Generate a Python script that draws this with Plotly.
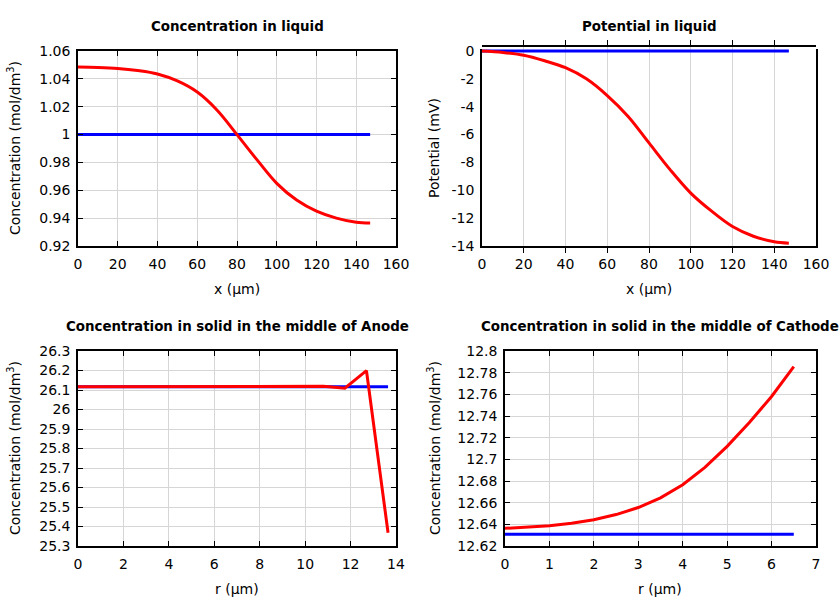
import plotly.graph_objects as go

# ---- data ----
liq_x = [0, 10, 20, 30, 40, 50, 60, 70, 80, 90, 100, 110, 120, 130, 140, 147]
liq_conc = [1.0485, 1.0482, 1.0475, 1.0460, 1.0435, 1.0385, 1.0305, 1.0175, 1.0000,
            0.9820, 0.9650, 0.9530, 0.9450, 0.9400, 0.9370, 0.9365]
liq_conc_init = [1.0] * len(liq_x)

liq_pot = [0.0, -0.1, -0.3, -0.7, -1.2, -2.0, -3.2, -4.7, -6.6, -8.5, -10.2, -11.5,
           -12.6, -13.3, -13.7, -13.8]
liq_pot_init = [0.0] * len(liq_x)
pot_tickvals = [0, -2, -4, -6, -8, -10, -12, -14]
pot_ticktext = ["0", "-2", "-4", "-6", "-8", "-10", "-12", "-14"]

an_r = [0, 10.8, 11.75, 12.7, 13.65]
an_conc = [26.117, 26.119, 26.109, 26.199, 25.368]
an_r_init = [0, 13.65]
an_conc_init = [26.117, 26.117]

ca_r = [0, 0.5, 1, 1.5, 2, 2.5, 3, 3.5, 4, 4.5, 5, 5.5, 6, 6.5]
ca_conc = [12.6363, 12.6373, 12.6387, 12.641, 12.6443, 12.649, 12.6555, 12.6645, 12.6765,
           12.6925, 12.712, 12.734, 12.758, 12.7855]
ca_r_init = [0, 6.5]
ca_conc_init = [12.6308, 12.6308]

RED = "#ff0000"
BLUE = "#0000ff"
FONT = "DejaVu Sans"
W, H = 840, 600

fig = go.Figure()

def add(x, y, color, xa, ya, shape="linear"):
    fig.add_trace(go.Scatter(x=x, y=y, mode="lines",
                             line=dict(color=color, width=3, shape=shape),
                             xaxis=xa, yaxis=ya, showlegend=False, hoverinfo="skip"))

def px_x(p):
    return p / W

def px_y(p):
    return 1 - p / H

common = dict(showline=True, linecolor="black", linewidth=1.5, mirror="allticks",
              ticks="inside", ticklen=5, tickcolor="black", tickwidth=1.2, showgrid=True,
              gridcolor="#d6d6d6", gridwidth=1, zeroline=False, automargin=False,
              tickfont=dict(family=FONT, size=14, color="black"))

panels = [
    ("xaxis", "yaxis", 78, 396, 51, 246, [0, 160], 20, [0.92, 1.06], 0.02),
    ("xaxis2", "yaxis2", 482, 816, 51, 246, [0, 160], 20, [-14, 0], 2),
    ("xaxis3", "yaxis3", 78, 396, 351, 546, [0, 14], 2, [25.3, 26.3], 0.1),
    ("xaxis4", "yaxis4", 505, 816, 351, 546, [0, 7], 1, [12.62, 12.8], 0.02),
]
layout_axes = {}
for i, (xn, yn, x0, x1, y0, y1, xr, xd, yr, yd) in enumerate(panels):
    suffix = "" if i == 0 else str(i + 1)
    layout_axes[xn] = dict(common, domain=[px_x(x0), px_x(x1)], range=xr, dtick=xd,
                           tick0=0, anchor="y" + suffix, ticklabelstandoff=4)
    layout_axes[yn] = dict(common, domain=[px_y(y1), px_y(y0)], range=yr, dtick=yd,
                           tick0=yr[0], anchor="x" + suffix, ticklabelstandoff=3)
layout_axes["yaxis2"].update(tickmode="array", tickvals=pot_tickvals, ticktext=pot_ticktext)

# helper axis for the potential panel: same scale, a few px taller so the
# curves lying on the top frame are not clipped
pad_px = 4
pot_span = 14.0
pot_top = pad_px * pot_span / (246 - 51)
layout_axes["yaxis5"] = dict(domain=[px_y(246), px_y(51 - pad_px)], range=[-14, pot_top],
                             visible=False, showgrid=False, zeroline=False, anchor="x2")

fig.update_layout(**layout_axes)

add(liq_x, liq_conc_init, BLUE, "x", "y")
add(liq_x, liq_conc, RED, "x", "y", "spline")
add(liq_x, liq_pot_init, BLUE, "x2", "y2")   # keeps the framed potential subplot alive
add(liq_x, liq_pot_init, BLUE, "x2", "y5")
add(liq_x, liq_pot, RED, "x2", "y5", "spline")
add(an_r_init, an_conc_init, BLUE, "x3", "y3")
add(an_r, an_conc, RED, "x3", "y3")
add(ca_r_init, ca_conc_init, BLUE, "x4", "y4")
add(ca_r, ca_conc, RED, "x4", "y4")

annotations = []
titles = [
    ("Concentration in liquid", 237, 26),
    ("Potential in liquid", 649, 26),
    ("Concentration in solid in the middle of Anode", 237, 326),
    ("Concentration in solid in the middle of Cathode", 660, 326),
]
for t, x, y in titles:
    annotations.append(dict(text="<b>" + t + "</b>", x=px_x(x), y=px_y(y), xref="paper",
                            yref="paper", showarrow=False, xanchor="center", yanchor="middle",
                            font=dict(family=FONT, size=13.4, color="black")))
xtitles = [("x (µm)", 237, 289), ("x (µm)", 649, 289), ("r (µm)", 237, 589), ("r (µm)", 660, 589)]
for t, x, y in xtitles:
    annotations.append(dict(text=t, x=px_x(x), y=px_y(y), xref="paper", yref="paper",
                            showarrow=False, xanchor="center", yanchor="middle",
                            font=dict(family=FONT, size=14, color="black")))
ytitles = [("Concentration (mol/dm<sup>3</sup>)", 14, 148),
           ("Potential (mV)", 434, 148),
           ("Concentration (mol/dm<sup>3</sup>)", 14, 448),
           ("Concentration (mol/dm<sup>3</sup>)", 434, 448)]
for t, x, y in ytitles:
    annotations.append(dict(text=t, x=px_x(x), y=px_y(y), xref="paper", yref="paper",
                            showarrow=False, xanchor="center", yanchor="middle", textangle=-90,
                            font=dict(family=FONT, size=14, color="black")))

fig.update_layout(width=W, height=H, margin=dict(l=0, r=0, t=0, b=0, autoexpand=False),
                  paper_bgcolor="white", plot_bgcolor="white",
                  annotations=annotations, showlegend=False)

fig.write_html("out.html", config={"displayModeBar": False},
               post_script="document.body.style.margin='0';document.body.style.overflow='hidden';")
